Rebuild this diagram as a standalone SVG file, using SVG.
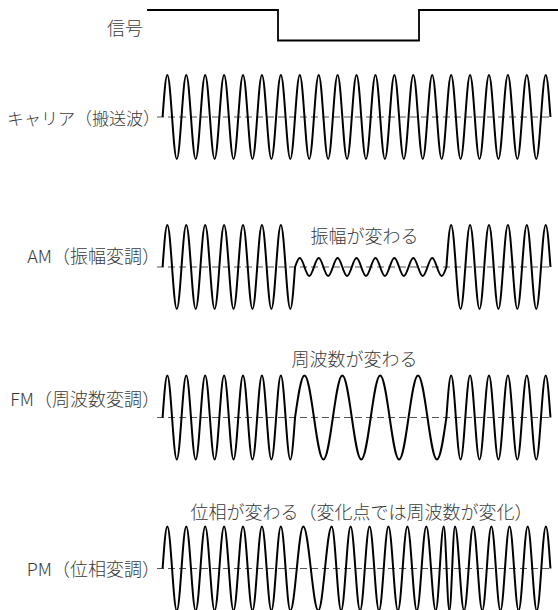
<svg xmlns="http://www.w3.org/2000/svg" width="558" height="610" viewBox="0 0 558 610">
<style>
.wave{fill:none;stroke:#000;stroke-width:2;stroke-linejoin:round}
.base{fill:none;stroke:#555;stroke-width:1;stroke-dasharray:7 4}
.sig{fill:none;stroke:#000;stroke-width:1.8}
.lbl{font-family:"Noto Sans CJK JP","Noto Sans",sans-serif;font-size:18px;font-weight:300;fill:#3a3a3a}
.end{text-anchor:end}
</style>
<rect width="558" height="610" fill="#fff"/>
<g id="signal">
<text class="lbl end" x="143" y="35">信号</text>
<path class="sig" d="M147,10 H278 V40.5 H419 V10 H558"/>
</g>
<g id="carrier">
<text class="lbl end" x="160" y="125" style="font-size:17px">キャリア（搬送波）</text>
<line class="base" x1="157" y1="117" x2="553" y2="117"/>
<path class="wave" d="M162.6,117 c1.581,-22.05 3.028,-42 4.73,-42
s3.149,19.95 4.73,42 s3.028,42 4.73,42 s3.149,-19.95 4.73,-42 s3.028,-42 4.73,-42
s3.149,19.95 4.73,42 s3.028,42 4.73,42 s3.149,-19.95 4.73,-42 s3.028,-42 4.73,-42
s3.149,19.95 4.73,42 s3.028,42 4.73,42 s3.149,-19.95 4.73,-42 s3.028,-42 4.73,-42
s3.149,19.95 4.73,42 s3.028,42 4.73,42 s3.149,-19.95 4.73,-42 s3.028,-42 4.73,-42
s3.149,19.95 4.73,42 s3.028,42 4.73,42 s3.149,-19.95 4.73,-42 s3.028,-42 4.73,-42
s3.149,19.95 4.73,42 s3.028,42 4.73,42 s3.149,-19.95 4.73,-42 s3.028,-42 4.73,-42
s3.149,19.95 4.73,42 s3.028,42 4.73,42 s3.149,-19.95 4.73,-42 s3.028,-42 4.73,-42
s3.149,19.95 4.73,42 s3.028,42 4.73,42 s3.149,-19.95 4.73,-42 s3.028,-42 4.73,-42
s3.149,19.95 4.73,42 s3.028,42 4.73,42 s3.149,-19.95 4.73,-42 s3.028,-42 4.73,-42
s3.149,19.95 4.73,42 s3.028,42 4.73,42 s3.149,-19.95 4.73,-42 s3.028,-42 4.73,-42
s3.149,19.95 4.73,42 s3.028,42 4.73,42 s3.149,-19.95 4.73,-42 s3.028,-42 4.73,-42
s3.149,19.95 4.73,42 s3.028,42 4.73,42 s3.149,-19.95 4.73,-42 s3.028,-42 4.73,-42
s3.149,19.95 4.73,42 s3.028,42 4.73,42 s3.149,-19.95 4.73,-42 s3.028,-42 4.73,-42
s3.149,19.95 4.73,42 s3.028,42 4.73,42 s3.149,-19.95 4.73,-42 s3.028,-42 4.73,-42
s3.149,19.95 4.73,42 s3.028,42 4.73,42 s3.149,-19.95 4.73,-42 s3.028,-42 4.73,-42
s3.149,19.95 4.73,42 s3.028,42 4.73,42 s3.149,-19.95 4.73,-42 s3.028,-42 4.73,-42
s3.149,19.95 4.73,42 s3.028,42 4.73,42 s3.149,-19.95 4.73,-42 s3.028,-42 4.73,-42
s3.149,19.95 4.73,42 s3.028,42 4.73,42 s3.149,-19.95 4.73,-42 s3.028,-42 4.73,-42
s3.149,19.95 4.73,42 s3.028,42 4.73,42 s3.149,-19.95 4.73,-42 s3.028,-42 4.73,-42
s3.149,19.95 4.73,42 s3.028,42 4.73,42 s3.149,-19.95 4.73,-42 s3.028,-42 4.73,-42
s3.149,19.95 4.73,42"/>
</g>
<g id="am">
<text class="lbl end" x="160" y="263">AM（振幅変調）</text>
<text class="lbl" x="310.5" y="243">振幅が変わる</text>
<line class="base" x1="157" y1="267" x2="553" y2="267"/>
<path class="wave" d="M162.6,267 c1.581,-22.05 3.028,-42 4.73,-42
s3.149,19.95 4.73,42 s3.028,42 4.73,42 s3.149,-19.95 4.73,-42 s3.028,-42 4.73,-42
s3.149,19.95 4.73,42 s3.028,42 4.73,42 s3.149,-19.95 4.73,-42 s3.028,-42 4.73,-42
s3.149,19.95 4.73,42 s3.028,42 4.73,42 s3.149,-19.95 4.73,-42 s3.028,-42 4.73,-42
s3.149,19.95 4.73,42 s3.028,42 4.73,42 s3.149,-19.95 4.73,-42 s3.028,-42 4.73,-42
s3.149,19.95 4.73,42 s3.028,42 4.73,42 s3.149,-19.95 4.73,-42 s3.028,-42 4.73,-42
s3.149,19.95 4.73,42 s3.028,42 4.73,42 s3.149,-19.95 4.73,-42 s3.028,-42 4.73,-42
s3.149,19.95 4.73,42 s3.028,42 4.73,42 s3.149,-19.95 4.73,-42
c1.581,-4.726 3.028,-9 4.73,-9
s3.149,4.274 4.73,9 s3.028,9 4.73,9 s3.149,-4.274 4.73,-9 s3.028,-9 4.73,-9
s3.149,4.274 4.73,9 s3.028,9 4.73,9 s3.149,-4.274 4.73,-9 s3.028,-9 4.73,-9
s3.149,4.274 4.73,9 s3.028,9 4.73,9 s3.149,-4.274 4.73,-9 s3.028,-9 4.73,-9
s3.149,4.274 4.73,9 s3.028,9 4.73,9 s3.149,-4.274 4.73,-9 s3.028,-9 4.73,-9
s3.149,4.274 4.73,9 s3.028,9 4.73,9 s3.149,-4.274 4.73,-9 s3.028,-9 4.73,-9
s3.149,4.274 4.73,9 s3.028,9 4.73,9 s3.149,-4.274 4.73,-9 s3.028,-9 4.73,-9
s3.149,4.274 4.73,9 s3.028,9 4.73,9 s3.149,-4.274 4.73,-9 s3.028,-9 4.73,-9
s3.149,4.274 4.73,9 s3.028,9 4.73,9 s3.149,-4.274 4.73,-9
c1.581,-22.05 3.028,-42 4.73,-42
s3.149,19.95 4.73,42 s3.028,42 4.73,42 s3.149,-19.95 4.73,-42 s3.028,-42 4.73,-42
s3.149,19.95 4.73,42 s3.028,42 4.73,42 s3.149,-19.95 4.73,-42 s3.028,-42 4.73,-42
s3.149,19.95 4.73,42 s3.028,42 4.73,42 s3.149,-19.95 4.73,-42 s3.028,-42 4.73,-42
s3.149,19.95 4.73,42 s3.028,42 4.73,42 s3.149,-19.95 4.73,-42 s3.028,-42 4.73,-42
s3.149,19.95 4.73,42 s3.028,42 4.73,42 s3.149,-19.95 4.73,-42 s3.028,-42 4.73,-42
s3.149,19.95 4.73,42"/>
</g>
<g id="fm">
<text class="lbl end" x="160" y="406">FM（周波数変調）</text>
<text class="lbl" x="291.5" y="366">周波数が変わる</text>
<line class="base" x1="157" y1="417.5" x2="553" y2="417.5"/>
<path class="wave" d="M162.6,417.5 c1.581,-22.05 3.028,-42 4.73,-42
s3.149,19.95 4.73,42 s3.028,42 4.73,42 s3.149,-19.95 4.73,-42 s3.028,-42 4.73,-42
s3.149,19.95 4.73,42 s3.028,42 4.73,42 s3.149,-19.95 4.73,-42 s3.028,-42 4.73,-42
s3.149,19.95 4.73,42 s3.028,42 4.73,42 s3.149,-19.95 4.73,-42 s3.028,-42 4.73,-42
s3.149,19.95 4.73,42 s3.028,42 4.73,42 s3.149,-19.95 4.73,-42 s3.028,-42 4.73,-42
s3.149,19.95 4.73,42 s3.028,42 4.73,42 s3.149,-19.95 4.73,-42 s3.028,-42 4.73,-42
s3.149,19.95 4.73,42 s3.028,42 4.73,42 s3.149,-19.95 4.73,-42 s3.028,-42 4.73,-42
s3.149,19.95 4.73,42 s3.028,42 4.73,42 s3.149,-19.95 4.73,-42
c3.162,-22.05 6.055,-42 9.46,-42
s6.298,19.95 9.46,42 s6.055,42 9.46,42 s6.298,-19.95 9.46,-42 s6.055,-42 9.46,-42
s6.298,19.95 9.46,42 s6.055,42 9.46,42 s6.298,-19.95 9.46,-42 s6.055,-42 9.46,-42
s6.298,19.95 9.46,42 s6.055,42 9.46,42 s6.298,-19.95 9.46,-42 s6.055,-42 9.46,-42
s6.298,19.95 9.46,42 s6.055,42 9.46,42 s6.298,-19.95 9.46,-42
c1.581,-22.05 3.028,-42 4.73,-42
s3.149,19.95 4.73,42 s3.028,42 4.73,42 s3.149,-19.95 4.73,-42 s3.028,-42 4.73,-42
s3.149,19.95 4.73,42 s3.028,42 4.73,42 s3.149,-19.95 4.73,-42 s3.028,-42 4.73,-42
s3.149,19.95 4.73,42 s3.028,42 4.73,42 s3.149,-19.95 4.73,-42 s3.028,-42 4.73,-42
s3.149,19.95 4.73,42 s3.028,42 4.73,42 s3.149,-19.95 4.73,-42 s3.028,-42 4.73,-42
s3.149,19.95 4.73,42 s3.028,42 4.73,42 s3.149,-19.95 4.73,-42 s3.028,-42 4.73,-42
s3.149,19.95 4.73,42"/>
</g>
<g id="pm">
<text class="lbl end" x="160" y="575.5">PM（位相変調）</text>
<text class="lbl" x="190.5" y="518.5">位相が変わる（変化点では周波数が変化）</text>
<line class="base" x1="157" y1="568.5" x2="553" y2="568.5"/>
<path class="wave" d="M162.6,568.5 c1.581,-22.05 3.028,-42 4.73,-42
s3.149,19.95 4.73,42 s3.028,42 4.73,42 s3.149,-19.95 4.73,-42 s3.028,-42 4.73,-42
s3.149,19.95 4.73,42 s3.028,42 4.73,42 s3.149,-19.95 4.73,-42 s3.028,-42 4.73,-42
s3.149,19.95 4.73,42 s3.028,42 4.73,42 s3.149,-19.95 4.73,-42 s3.028,-42 4.73,-42
s3.149,19.95 4.73,42 s3.028,42 4.73,42 s3.149,-19.95 4.73,-42 s3.028,-42 4.73,-42
s3.149,19.95 4.73,42 s3.028,42 4.73,42 s3.149,-19.95 4.73,-42 s3.028,-42 4.73,-42
s3.149,19.95 4.73,42 s3.028,42 4.73,42 s3.149,-19.95 4.73,-42 s3.028,-42 4.73,-42
s3.149,19.95 4.73,42 s3.028,42 4.73,42
c2.338,0 4.324,-19.95 6.495,-42 c2.171,-22.05 4.157,-42 6.495,-42
c2.699,0 4.993,19.95 7.5,42 c2.507,22.05 4.801,42 7.5,42
c2.411,0 4.460,-19.95 6.7,-42 c2.240,-22.05 4.289,-42 6.7,-42
c1.702,0 3.149,19.95 4.73,42 s3.028,42 4.73,42 s3.149,-19.95 4.73,-42 s3.028,-42 4.73,-42
s3.149,19.95 4.73,42 s3.028,42 4.73,42 s3.149,-19.95 4.73,-42 s3.028,-42 4.73,-42
s3.149,19.95 4.73,42 s3.028,42 4.73,42 s3.149,-19.95 4.73,-42 s3.028,-42 4.73,-42
s3.149,19.95 4.73,42 s3.028,42 4.73,42 s3.149,-19.95 4.73,-42 s3.028,-42 4.73,-42
s3.149,19.95 4.73,42 s3.028,42 4.73,42 s3.149,-19.95 4.73,-42 s3.028,-42 4.73,-42
s3.149,19.95 4.73,42 s3.028,42 4.73,42
c1.443,0 2.669,-19.95 4.01,-42 c1.341,-22.05 2.567,-42 4.01,-42
c1.008,0 1.864,19.95 2.8,42 c0.936,22.05 1.792,42 2.8,42
c1.008,0 1.864,-19.95 2.8,-42 c0.936,-22.05 1.792,-42 2.8,-42
c1.636,0 3.026,19.95 4.5455,42 s2.910,42 4.5455,42 s3.026,-19.95 4.5455,-42 s2.910,-42 4.5455,-42
s3.026,19.95 4.5455,42 s2.910,42 4.5455,42 s3.026,-19.95 4.5455,-42 s2.910,-42 4.5455,-42
s3.026,19.95 4.5455,42 s2.910,42 4.5455,42 s3.026,-19.95 4.5455,-42 s2.910,-42 4.5455,-42
s3.026,19.95 4.5455,42 s2.910,42 4.5455,42 s3.026,-19.95 4.5455,-42 s2.910,-42 4.5455,-42
s3.026,19.95 4.5455,42 s2.910,42 4.5455,42 s3.026,-19.95 4.5455,-42 s2.910,-42 4.5455,-42
s3.026,19.95 4.5455,42"/>
</g>
</svg>
